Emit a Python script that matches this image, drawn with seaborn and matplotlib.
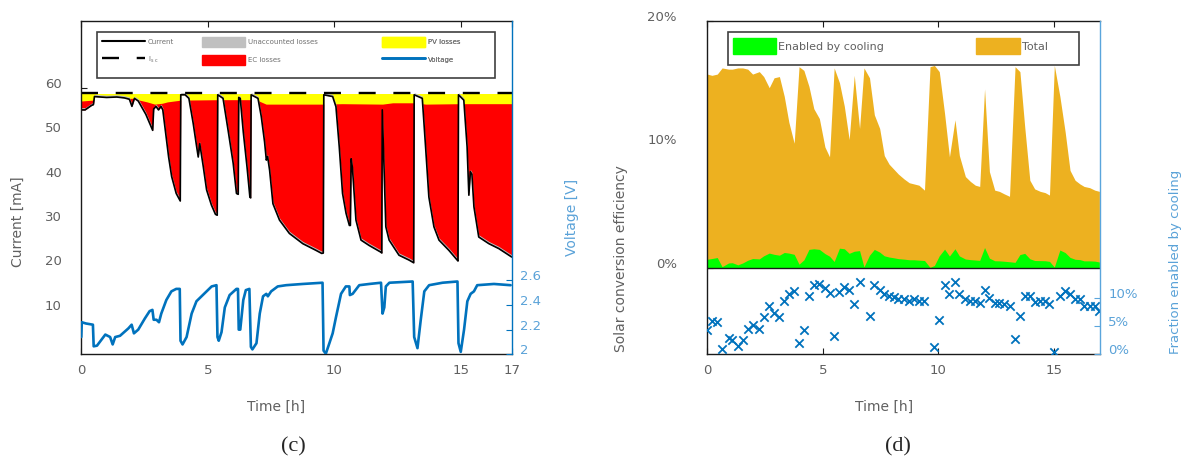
import matplotlib
matplotlib.use("Agg")
import matplotlib.pyplot as plt
from matplotlib.lines import Line2D
from matplotlib.patches import Patch, Rectangle
import seaborn as sns
import numpy as np

# ---------------- panel (c): current, losses and voltage ----------------
cur_t = [0.00, 0.15, 0.40, 0.48, 0.52, 1.00, 1.40, 1.70, 1.90, 2.00, 2.10, 2.25, 2.40, 2.55,
         2.70, 2.82, 2.86, 2.95, 3.05, 3.15, 3.22, 3.32, 3.45, 3.57, 3.75, 3.91, 3.93, 4.10,
         4.25, 4.42, 4.55, 4.62, 4.68, 4.82, 4.95, 5.14, 5.30, 5.37, 5.39, 5.60, 5.80, 6.00,
         6.13, 6.20, 6.22, 6.28, 6.40, 6.55, 6.66, 6.69, 6.71, 6.98, 7.11, 7.24, 7.31, 7.36,
         7.44, 7.57, 7.83, 8.22, 8.75, 9.27, 9.50, 9.56, 9.58, 9.93, 10.06, 10.19, 10.32,
         10.46, 10.59, 10.63, 10.66, 10.71, 10.85, 11.05, 11.37, 11.83, 11.87, 11.89, 12.03,
         12.16, 12.55, 12.95, 13.13, 13.15, 13.47, 13.60, 13.73, 13.93, 14.13, 14.52, 14.85,
         14.88, 14.90, 15.11, 15.24, 15.31, 15.37, 15.43, 15.51, 15.70, 16.10, 16.49, 17.00]
cur_ma = [55.0, 55.0, 56.0, 56.2, 58.0, 57.8, 57.9, 57.7, 57.4, 55.8, 57.6, 57.0, 55.5, 54.0,
          52.0, 50.4, 55.2, 55.8, 55.0, 55.8, 55.0, 50.4, 44.4, 40.0, 36.2, 34.5, 58.4, 58.4,
          57.6, 52.0, 47.0, 44.4, 47.4, 42.2, 37.0, 33.6, 31.5, 31.3, 58.4, 57.6, 50.4, 43.0,
          36.2, 36.0, 57.8, 57.6, 50.0, 42.0, 35.4, 35.2, 58.4, 57.6, 53.5, 47.8, 43.7, 44.5,
          41.4, 33.9, 30.2, 27.2, 24.9, 23.4, 22.7, 22.8, 58.4, 58.0, 55.7, 46.7, 36.2,
          31.7, 29.0, 29.0, 44.0, 42.0, 30.2, 25.7, 24.5, 23.0, 22.8, 55.0, 28.7,
          25.7, 22.3, 21.2, 20.6, 58.4, 57.6, 46.7, 35.4, 28.7, 25.7, 23.4, 21.2,
          21.0, 58.4, 57.2, 46.7, 35.8, 41.1, 40.5, 33.2, 26.4, 24.9, 23.8, 21.9]

# top of the EC-loss band
ec_t = [0.0, 0.45, 0.50, 2.05, 2.3, 2.6, 2.9, 3.2, 3.4, 3.93, 5.5, 6.9, 7.3, 9.6, 10.3,
        11.9, 12.3, 13.2, 13.6, 15.0, 15.5, 17.0]
ec_top = [57.0, 57.2, 57.5, 57.6, 57.2, 56.8, 56.3, 56.5, 56.8, 57.2, 57.3, 57.3, 56.3, 56.3,
          56.4, 56.3, 56.6, 56.6, 56.3, 56.4, 56.4, 56.4]
pv_top = 58.55
isc = 58.8
unaccounted = 0.5

volt_t = [0.00, 0.02, 0.18, 0.46, 0.49, 0.62, 0.95, 1.14, 1.24, 1.34, 1.53, 1.86, 1.99, 2.08,
          2.25, 2.51, 2.70, 2.81, 2.86, 2.97, 3.07, 3.16, 3.36, 3.56, 3.75, 3.89, 3.92, 4.00,
          4.16, 4.36, 4.55, 4.75, 4.95, 5.15, 5.34, 5.38, 5.43, 5.54, 5.67, 5.86, 6.13, 6.19,
          6.22, 6.28, 6.40, 6.50, 6.64, 6.70, 6.76, 6.92, 7.05, 7.18, 7.31, 7.37, 7.50, 7.76,
          8.09, 8.75, 9.53, 9.57, 9.66, 9.80, 9.93, 10.06, 10.26, 10.45, 10.59, 10.61, 10.72,
          10.98, 11.38, 11.84, 11.90, 11.97, 12.03, 12.17, 13.09, 13.15, 13.28, 13.41, 13.55,
          13.74, 14.27, 14.86, 14.90, 14.99, 15.12, 15.25, 15.38, 15.51, 15.64, 16.30, 16.96]
volt_v = [2.14, 2.26, 2.25, 2.24, 2.065, 2.07, 2.16, 2.14, 2.08, 2.14, 2.15, 2.21, 2.24, 2.17,
          2.20, 2.29, 2.35, 2.36, 2.28, 2.28, 2.26, 2.33, 2.44, 2.51, 2.53, 2.53, 2.11, 2.08,
          2.14, 2.33, 2.43, 2.47, 2.51, 2.55, 2.56, 2.14, 2.11, 2.18, 2.38, 2.48, 2.53, 2.53,
          2.20, 2.20, 2.44, 2.52, 2.53, 2.06, 2.04, 2.09, 2.33, 2.47, 2.49, 2.47, 2.51, 2.55,
          2.56, 2.57, 2.58, 2.03, 2.005, 2.09, 2.17, 2.30, 2.49, 2.55, 2.55, 2.48, 2.49,
          2.56, 2.57, 2.58, 2.33, 2.38, 2.55, 2.58, 2.59, 2.14, 2.05, 2.28, 2.51,
          2.56, 2.58, 2.59, 2.09, 2.02, 2.20, 2.43, 2.49, 2.51, 2.56, 2.57, 2.56]

# ---------------- panel (d): efficiency ----------------
nan = np.nan
eff_t = [0.00, 0.20, 0.43, 0.64, 0.92, 1.08, 1.32, 1.53, 1.75, 1.96, 2.25, 2.44, 2.68, 2.89,
         3.12, 3.33, 3.53, 3.76, 3.97, 4.18, 4.40, 4.61, 4.85, 5.09, 5.29, 5.49, 5.72, 5.93,
         6.14, 6.36, 6.59, 6.78, 7.02, 7.23, 7.46, 7.66, 7.87, 8.07, 8.27, 8.52, 8.74, 8.95,
         9.16, 9.40, 9.64, 9.83, 10.04, 10.27, 10.48, 10.72, 10.91, 11.17, 11.39, 11.60, 11.79,
         12.00, 12.21, 12.44, 12.64, 12.85, 13.08, 13.32, 13.53, 13.74, 13.96, 14.17, 14.41,
         14.62, 14.81, 15.02, 15.26, 15.49, 15.70, 15.92, 16.13, 16.31, 16.55, 16.77, 16.97]
eff_total = [15.7, 15.6, 15.7, 16.2, 16.1, 16.1, 16.2, 16.2, 16.1, 15.7, 15.9, 15.5, 14.6, 15.4,
             15.5, 13.9, 11.8, 10.1, 16.3, 16.0, 14.7, 12.9, 12.1, 9.8, 9.0, 16.2, 15.0, 13.1,
             10.4, 15.6, 11.3, 16.2, 15.4, 12.4, 11.3, 9.1, 8.4, 8.0, 7.6, 7.2, 6.9, 6.8,
             6.7, 6.3, 16.3, 16.4, 15.9, 12.5, 9.0, 12.0, 9.1, 7.4, 7.0, 6.7, 6.6,
             14.5, 7.8, 6.3, 6.2, 6.0, 5.8, 16.3, 15.9, 11.4, 7.1, 6.4, 6.2,
             6.1, 5.9, 16.4, 13.9, 11.0, 7.9, 7.1, 6.8, 6.6, 6.5, 6.3, 6.2]
eff_cooling = [0.70, 0.76, 0.84, 0.10, 0.40, 0.42, 0.25, 0.40, 0.62, 0.76, 0.73, 0.98, 1.20, 1.10,
               1.03, 1.25, 1.20, 1.10, 0.30, 0.65, 1.50, 1.55, 1.50, 1.16, 0.95, 0.52, 1.60, 1.55,
               1.18, 1.35, 1.40, 0.08, 1.03, 1.50, 1.28, 0.98, 0.88, 0.82, 0.75, 0.71, 0.66, 0.66,
               0.63, 0.60, 0.04, 0.20, 0.98, 1.52, 0.96, 1.55, 0.97, 0.72, 0.67, 0.64, 0.61,
               1.65, 0.79, 0.58, 0.57, 0.54, 0.50, 0.45, 1.08, 1.18, 0.74, 0.60, 0.59,
               0.58, 0.53, 0.07, 1.45, 1.24, 0.85, 0.70, 0.67, 0.57, 0.57, 0.55, 0.48]
frac_cooling = [4.4, 5.9, 5.7, 1.0, 2.9, 2.6, 1.4, 2.6, 4.5, 5.3, 4.5, 6.7, 8.6, 7.3,
                6.7, 9.5, 10.7, 11.3, 2.0, 4.4, 10.5, 12.3, 12.6, 11.8, 11.0, 3.2, 11.1, 12.1,
                11.5, 9.0, 12.9, nan, 6.8, 12.3, 11.4, 10.8, 10.5, 10.2, 9.9, 9.9, 9.5, 9.8,
                9.5, 9.5, nan, 1.25, 6.2, 12.3, 10.7, 12.9, 10.7, 9.8, 9.6, 9.5, 9.2,
                11.4, 10.1, 9.2, 9.2, 9.0, 8.7, 2.8, 6.8, 10.4, 10.4, 9.3, 9.5,
                9.5, 9.0, 0.4, 10.4, 11.3, 10.7, 9.9, 9.9, 8.7, 8.7, 8.7, 7.7]

RED = "#ff0000"
YELLOW = "#ffff00"
GRAY = "#c0c0c0"
GREEN = "#00ff00"
ORANGE = "#edb120"
BLUE = "#0072bd"
BLUE_TXT = "#5aa2d8"
TXT = "#606060"
SPINE = "#1a1a1a"

sns.set_theme(style="ticks")
plt.rcParams["font.family"] = ["DejaVu Sans"]

fig = plt.figure(figsize=(11.83, 4.61), dpi=100)
ax_c = fig.add_axes([0.0687, 0.2314, 0.3638, 0.7230])
ax_d = fig.add_axes([0.5979, 0.2314, 0.3320, 0.7230])


def style_main(ax):
    for s in ["left", "bottom", "top"]:
        ax.spines[s].set_color(SPINE)
        ax.spines[s].set_linewidth(1.0)
    ax.spines["right"].set_visible(False)
    ax.tick_params(axis="both", direction="in", length=4, width=0.8, color=SPINE,
                   labelcolor=TXT, labelsize=9.5)
    ax.tick_params(axis="x", top=True, pad=7)


def style_twin(tw, spine_color):
    for s in ["left", "bottom", "top"]:
        tw.spines[s].set_visible(False)
    tw.spines["right"].set_color(spine_color)
    tw.spines["right"].set_linewidth(1.0)
    tw.tick_params(axis="y", direction="in", length=4, width=0.8, color=spine_color,
                   labelcolor=BLUE_TXT, labelsize=9.5, pad=6)


# ---- panel (c) ----
ax = ax_c
ax.fill_between(cur_t, 0, pv_top, color=YELLOW, lw=0)
ax.fill_between(ec_t, 0, ec_top, color=RED, lw=0)
ax.fill_between(cur_t, 0, cur_ma, color="white", lw=0)
ax.fill_between(cur_t, cur_ma, np.array(cur_ma) + unaccounted, color=GRAY, lw=0)
sns.lineplot(x=cur_t, y=cur_ma, ax=ax, color="black", lw=1.2, sort=False, estimator=None)
ax.axhline(isc, color="black", lw=1.7, ls=(0, (7.2, 7.5)))
ax.set_xlim(0, 17)
ax.set_ylim(0, 75)
ax.set_xticks([0, 5, 10, 15, 17])
ax.set_yticks([10, 20, 30, 40, 50, 60])
style_main(ax)
ax.tick_params(axis="y", pad=14)
for lbl in ax.get_yticklabels():
    lbl.set_va("baseline")
ax.set_xlabel("Time [h]", color=TXT, fontsize=10)
ax.xaxis.set_label_coords(0.452, -0.137)
ax.set_ylabel("Current [mA]", color=TXT, fontsize=10)
ax.yaxis.set_label_coords(-0.131, 0.397)

axv = ax.twinx()
sns.lineplot(x=volt_t, y=volt_v, ax=axv, color=BLUE, lw=1.9, sort=False, estimator=None)
axv.set_ylim(2, 4.7)
axv.set_yticks([2, 2.2, 2.4, 2.6])
axv.set_yticklabels(["2", "2.2", "2.4", "2.6"])
style_twin(axv, BLUE)
for lbl in axv.get_yticklabels():
    lbl.set_va("baseline")
axv.set_ylabel("Voltage [V]", color=BLUE_TXT, fontsize=10)
axv.yaxis.set_label_coords(1.124, 0.41)

# legend of panel (c): frame + one legend per column
axv.add_patch(Rectangle((0.0372, 0.828), 0.924, 0.138, transform=axv.transAxes,
                        facecolor="white", edgecolor="#404040", lw=1.2, zorder=4))
c_cols = [
    (0.0481, [Line2D([], [], color="black", lw=1.5),
              Line2D([], [], color="black", lw=1.7, ls=(0, (7.2, 7.5)))],
     ["Current", r"I$_{\mathrm{s\ c}}$"]),
    (0.2811, [Patch(color=GRAY), Patch(color=RED)], ["Unaccounted losses", "EC losses"]),
    (0.6987, [Patch(color=YELLOW), Line2D([], [], color=BLUE, lw=1.9)], ["PV losses", "Voltage"]),
]
for x0, hs, ls_ in c_cols:
    leg = axv.legend(hs, ls_, loc="upper left", bbox_to_anchor=(x0, 0.952), frameon=False,
                     fontsize=5, handlelength=6.2, handleheight=1.8, labelspacing=1.14,
                     handletextpad=0.4, borderpad=0, borderaxespad=0)
    for txt in leg.get_texts():
        txt.set_color("#707070")
    leg.set_zorder(5)
    axv.add_artist(leg)

# ---- panel (d) ----
ax = ax_d
ax.fill_between(eff_t, 0, eff_total, color=ORANGE, lw=0)
ax.fill_between(eff_t, 0, eff_cooling, color=GREEN, lw=0)
ax.axhline(0, color=SPINE, lw=1.0)
ax.set_xlim(0, 17)
ax.set_ylim(-7, 20)
ax.set_xticks([0, 5, 10, 15])
ax.set_yticks([0, 10, 20])
ax.set_yticklabels(["0%", "10%", "20%"])
style_main(ax)
ax.tick_params(axis="y", pad=22)
for lbl in ax.get_yticklabels():
    lbl.set_va("baseline")
ax.set_xlabel("Time [h]", color=TXT, fontsize=10)
ax.xaxis.set_label_coords(0.449, -0.137)
ax.set_ylabel("Solar conversion efficiency", color=TXT, fontsize=10)
ax.yaxis.set_label_coords(-0.202, 0.286)

ax.add_patch(Rectangle((0.0535, 0.868), 0.8935, 0.098, transform=ax.transAxes,
                       facecolor="white", edgecolor="#404040", lw=1.2, zorder=4))
leg = ax.legend([Patch(color=GREEN), Patch(color=ORANGE)], ["Enabled by cooling", "Total"],
                ncol=2, loc="upper left", bbox_to_anchor=(0.065, 0.949), frameon=False,
                fontsize=8, handlelength=3.9, handleheight=1.9, handletextpad=0.2,
                columnspacing=8.3, borderpad=0, borderaxespad=0)
for txt in leg.get_texts():
    txt.set_color(TXT)
leg.set_zorder(5)

axf = ax.twinx()
sns.scatterplot(x=eff_t, y=frac_cooling, ax=axf, marker="x", color=BLUE, s=36, linewidth=1.3)
axf.set_ylim(0, 59.5)
axf.set_yticks([0, 5, 10])
axf.set_yticklabels(["0%", "5%", "10%"])
style_twin(axf, "#5aa5dc")
for lbl in axf.get_yticklabels():
    lbl.set_va("baseline")
axf.set_ylabel("Fraction enabled by cooling", color=BLUE_TXT, fontsize=9.5)
axf.yaxis.set_label_coords(1.176, 0.277)

fig.text(0.248, 0.030, "(c)", ha="center", va="center", fontsize=16, family="Liberation Serif")
fig.text(0.759, 0.030, "(d)", ha="center", va="center", fontsize=16, family="Liberation Serif")

fig.savefig("out.png", dpi=100)
